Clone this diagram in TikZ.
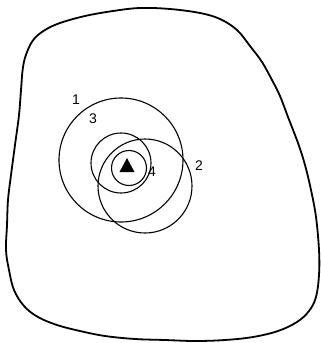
\documentclass[tikz,border=0pt]{standalone}
\usepackage{fontspec}
\setmainfont{Liberation Sans}
\begin{document}
\begin{tikzpicture}[x=1pt,y=-1pt,
  outline/.style={line width=1.8pt,line join=round},
  ring/.style={line width=1.1pt},
  lbl/.style={font=\fontsize{14}{14}\selectfont,inner sep=0pt}]
\useasboundingbox (0,0) rectangle (321,343);
\draw[outline] plot[smooth cycle,tension=0.6] coordinates{
 (23,67) (27,52) (34,39) (45,30) (60,23) (85,16) (113,11) (140,8) (170,9)
 (200,13) (220,19) (237,30) (250,46) (262,62) (272,80) (280,96) (288,117)
 (298,143) (305,165) (311,190) (316,217) (319,250) (319,275) (316,297)
 (309,311) (297,322) (278,331) (253,337) (225,340) (195,341) (165,340)
 (135,339) (105,336) (80,331) (57,325) (38,317) (24,306) (14,290) (9,270)
 (6,250) (7,225) (8,200) (11,175) (15,145) (19,115) (21,90)};
\draw[ring] (121,160) circle (62);
\draw[ring] (145,186) circle (47);
\draw[ring] (121,163) circle (30);
\draw[ring] (129,168) circle (17.5);
\coordinate (tA) at (127,158);
\coordinate (tB) at (119.5,172);
\coordinate (tC) at (134.5,172);
\fill (tA) -- (tB) -- (tC) -- cycle;
\node[lbl] (l1) at (76,100) {1};
\node[lbl] (l3) at (93,119) {3};
\node[lbl] (l2) at (199,166) {2};
\node[lbl] (l4) at (152,172) {4};
\end{tikzpicture}
\end{document}
